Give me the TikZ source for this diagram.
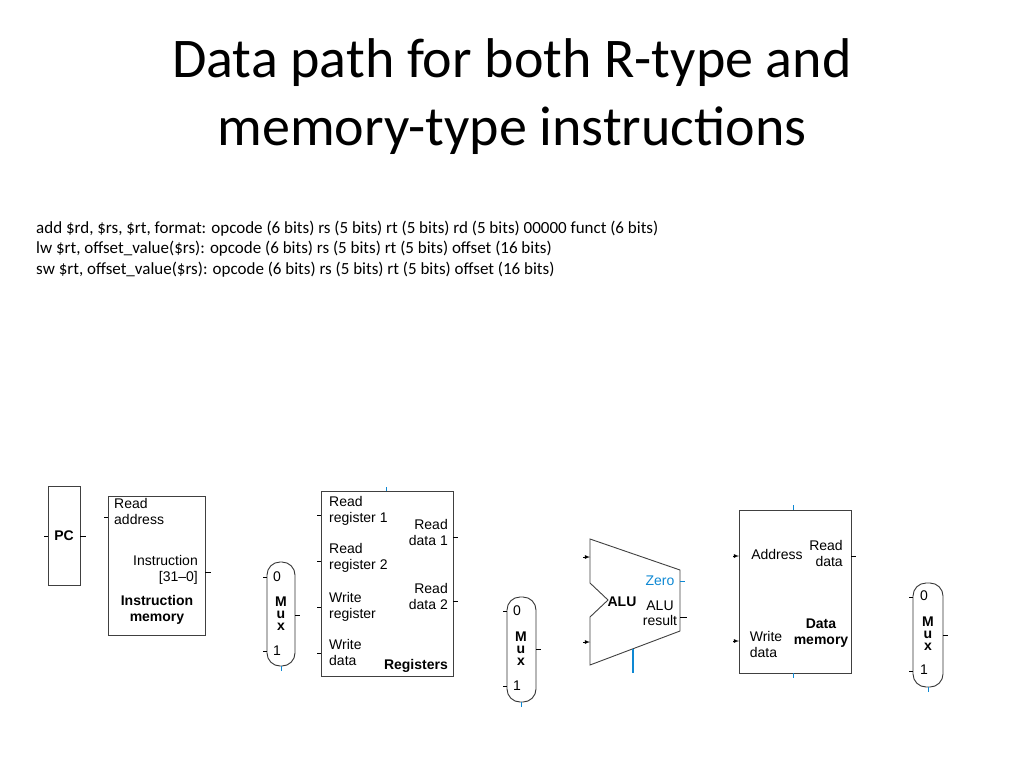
\documentclass[tikz,border=0pt]{standalone}
\usepackage{fontspec}
\setmainfont{Carlito}
\newfontfamily\hv{Liberation Sans}
\begin{document}
\begin{tikzpicture}[x=1pt,y=-1pt,
  blk/.style={draw=black!75,line width=0.9pt},
  lbl/.style={font=\hv\fontsize{14}{16}\selectfont,inner sep=0pt,align=left},
  blbl/.style={lbl,font=\hv\bfseries\fontsize{14}{16}\selectfont},
  mx/.style={lbl,font=\hv\bfseries\fontsize{14}{12}\selectfont,align=center},
  tk/.style={draw=black,line width=0.8pt},
  btk/.style={draw=cyan!70!blue,line width=0.8pt},
  muxs/.style={draw=black!80,line width=0.9pt,rounded corners=13pt}]
\useasboundingbox (0,0) rectangle (1024,768);
\node[font=\fontsize{56}{56}\selectfont] (t1) at (512,63) {Data path for both R-type and};
\node[font=\fontsize{56}{56}\selectfont] (t2) at (512,131) {memory-type instructions};
\node[anchor=west,font=\fontsize{17}{17}\selectfont,inner sep=0pt] (l1) at (36,229) {add \$rd, \$rs, \$rt, format: opcode (6 bits) rs (5 bits) rt (5 bits) rd (5 bits) 00000 funct (6 bits)};
\node[anchor=west,font=\fontsize{17}{17}\selectfont,inner sep=0pt] (l2) at (36,249) {lw \$rt, offset\_value(\$rs): opcode (6 bits) rs (5 bits) rt (5 bits) offset (16 bits)};
\node[anchor=west,font=\fontsize{17}{17}\selectfont,inner sep=0pt] (l3) at (36,270) {sw \$rt, offset\_value(\$rs): opcode (6 bits) rs (5 bits) rt (5 bits) offset (16 bits)};
% PC
\draw[blk] (48,486) rectangle (80,585);
\node[blbl] (pc) at (64,536) {PC};
\draw[tk] (44,536)--(48,536) (80,536)--(86,536);
% Instruction memory
\draw[blk] (108,496) rectangle (205,635);
\node[lbl,anchor=north west] (ra) at (114,498) {Read\\address};
\node[lbl,anchor=north east,align=right] (ins) at (198,555) {Instruction\\\relax [31–0]};
\node[blbl,anchor=north,align=center] (im) at (157,595) {Instruction\\memory};
\draw[tk] (104,517)--(108,517) (205,572)--(211,572);
% Mux 1
\draw[muxs] (267,562) rectangle (295,666);
\node[lbl] at (277,577) {0};
\node[lbl] at (277,651) {1};
\node[mx] at (281,614) {M\\u\\x};
\draw[tk] (263,577)--(267,577) (263,651)--(267,651) (295,615)--(300,615);
\draw[btk] (281,666)--(281,671);
% Registers
\draw[blk] (321,491) rectangle (453,676);
\node[lbl,anchor=north west] at (329,496) {Read\\register 1};
\node[lbl,anchor=north west] at (329,543) {Read\\register 2};
\node[lbl,anchor=north west] at (329,592) {Write\\register};
\node[lbl,anchor=north west] at (329,639) {Write\\data};
\node[lbl,anchor=north east,align=right] at (448,519) {Read\\data 1};
\node[lbl,anchor=north east,align=right] at (448,583) {Read\\data 2};
\node[blbl,anchor=south east] at (448,673) {Registers};
\draw[tk] (317,515)--(321,515) (317,561)--(321,561) (317,607)--(321,607) (317,653)--(321,653);
\draw[tk] (453,537)--(458,537) (453,601)--(458,601);
\draw[btk] (386,487)--(386,491);
% Mux 2
\draw[muxs] (507,597) rectangle (536,702);
\node[lbl] at (517,611) {0};
\node[lbl] at (517,686) {1};
\node[mx] at (521,649) {M\\u\\x};
\draw[tk] (503,611)--(507,611) (503,686)--(507,686) (536,649)--(541,649);
\draw[btk] (521,702)--(521,707);
% ALU
\draw[blk] (590,539)--(680,570)--(680,631)--(590,665)--(590,617)--(608,600)--(590,583)--cycle;
\node[blbl] (alu) at (622,602) {ALU};
\node[lbl,text=cyan!70!blue] (zero) at (660,581) {Zero};
\node[lbl,align=center,font=\hv\fontsize{14}{15}\selectfont] (res) at (660,613) {ALU\\result};
\draw[tk,-latex] (583,557)--(590,557);
\draw[tk,-latex] (583,642)--(590,642);
\draw[btk] (680,581)--(685,581);
\draw[tk] (680,617)--(687,617);
\draw[draw=cyan!70!blue,line width=2.5pt] (633,649)--(633,673);
% Data memory
\draw[blk] (739,510) rectangle (851,673);
\node[lbl] at (777,554) {Address};
\node[lbl,align=right] at (826,553) {Read\\data};
\node[lbl,align=left] at (766,644) {Write\\data};
\node[blbl,align=center] at (821,633) {Data\\memory};
\draw[tk,-latex] (733,556)--(739,556);
\draw[tk,-latex] (733,641)--(739,641);
\draw[tk] (851,556)--(856,556);
\draw[btk] (793,505)--(793,510) (793,673)--(793,678);
% Mux 3
\draw[muxs] (913,583) rectangle (943,687);
\node[lbl] at (924,596) {0};
\node[lbl] at (924,670) {1};
\node[mx] at (928,634) {M\\u\\x};
\draw[tk] (909,597)--(913,597) (909,671)--(913,671) (943,635)--(948,635);
\draw[btk] (928,687)--(928,692);
\end{tikzpicture}
\end{document}
